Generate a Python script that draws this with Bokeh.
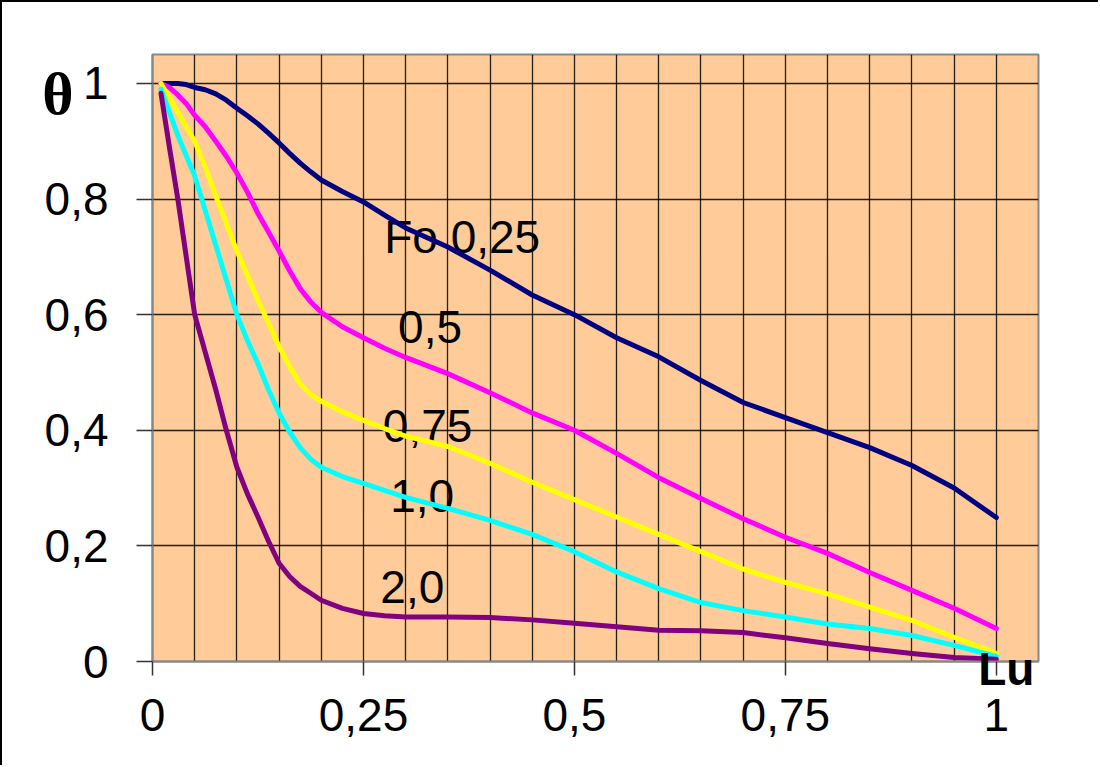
from bokeh.plotting import figure
from bokeh.models import Range1d, FixedTicker, ColumnDataSource
from bokeh.core.properties import value
from bokeh.embed import file_html
from bokeh.resources import INLINE

# Data
lu = [0.01, 0.02, 0.03, 0.04, 0.05, 0.0625, 0.075, 0.0875, 0.1, 0.1125, 0.125, 0.1375,
      0.15, 0.1625, 0.175, 0.1875, 0.2, 0.225, 0.25, 0.275, 0.3, 0.35, 0.4,
      0.45, 0.5, 0.55, 0.6, 0.65, 0.7, 0.75, 0.8, 0.85, 0.9, 0.95, 1.0]
theta_fo_025 = [1.0, 1.0, 1.0, 0.998, 0.993, 0.989, 0.982, 0.971, 0.957, 0.944, 0.93, 0.914,
                0.897, 0.879, 0.862, 0.847, 0.833, 0.813, 0.795, 0.772, 0.75, 0.717, 0.677,
                0.634, 0.6, 0.56, 0.527, 0.486, 0.448, 0.422, 0.396, 0.37, 0.339, 0.3, 0.249]
theta_fo_05 = [1.0, 0.993, 0.98, 0.965, 0.945, 0.925, 0.9, 0.874, 0.845, 0.812, 0.775, 0.743,
               0.71, 0.676, 0.645, 0.622, 0.604, 0.579, 0.56, 0.542, 0.526, 0.498, 0.465,
               0.43, 0.4, 0.36, 0.318, 0.282, 0.247, 0.215, 0.187, 0.154, 0.123, 0.092, 0.057]
theta_fo_075 = [1.0, 0.975, 0.95, 0.925, 0.9, 0.855, 0.805, 0.758, 0.71, 0.668, 0.625, 0.585,
                0.545, 0.51, 0.48, 0.462, 0.45, 0.432, 0.417, 0.403, 0.39, 0.372, 0.343,
                0.31, 0.28, 0.25, 0.22, 0.19, 0.16, 0.137, 0.117, 0.094, 0.071, 0.042, 0.014]
theta_fo_10 = [0.99, 0.95, 0.91, 0.875, 0.84, 0.78, 0.72, 0.66, 0.6, 0.555, 0.515, 0.47,
               0.43, 0.397, 0.37, 0.35, 0.336, 0.32, 0.308, 0.296, 0.284, 0.265, 0.244,
               0.22, 0.19, 0.155, 0.126, 0.102, 0.088, 0.077, 0.065, 0.057, 0.045, 0.028, 0.009]
theta_fo_20 = [0.983, 0.89, 0.8, 0.7, 0.6, 0.535, 0.47, 0.4, 0.336, 0.29, 0.25, 0.208,
               0.17, 0.147, 0.13, 0.118, 0.106, 0.092, 0.083, 0.079, 0.077, 0.077, 0.076,
               0.072, 0.066, 0.06, 0.054, 0.053, 0.05, 0.041, 0.031, 0.022, 0.014, 0.007, 0.004]

series = [theta_fo_025, theta_fo_05, theta_fo_075, theta_fo_10, theta_fo_20]
colors = ["#000080", "#FF00FF", "#FFFF00", "#00FFFF", "#800080"]

curve_labels = ["Fo 0,25", "0,5", "0,75", "1,0", "2,0"]
curve_label_x = [0.2746, 0.291, 0.273, 0.2817, 0.27]
curve_label_y = [0.735, 0.579, 0.408, 0.287, 0.129]

x_ticks = [0, 0.25, 0.5, 0.75, 1]
x_tick_labels = ["0", "0,25", "0,5", "0,75", "1"]
y_ticks = [0, 0.2, 0.4, 0.6, 0.8, 1]
y_tick_labels = ["0", "0,2", "0,4", "0,6", "0,8", "1"]

W, H = 1098, 765
p = figure(width=W, height=H, output_backend="svg", toolbar_location=None,
           x_range=Range1d(0, 1.05), y_range=Range1d(0, 1.05),
           min_border_left=150, min_border_top=52, min_border_right=W - 1036,
           min_border_bottom=H - 659)
p.styles = {"border-left": "2px solid black", "border-top": "2px solid black"}

p.background_fill_color = "#FFCC99"
p.border_fill_color = "white"
p.outline_line_color = "#888888"
p.outline_line_width = 2

# grid
p.xgrid.ticker = FixedTicker(ticks=[round(0.05 * i, 2) for i in range(1, 21)])
p.ygrid.ticker = FixedTicker(ticks=y_ticks[1:])
for g in (p.xgrid, p.ygrid):
    g.grid_line_color = "black"
    g.grid_line_alpha = 0.85
    g.grid_line_width = 1.3

# axes
p.xaxis.ticker = FixedTicker(ticks=x_ticks)
p.yaxis.ticker = FixedTicker(ticks=y_ticks)
p.xaxis.major_label_overrides = {t: l for t, l in zip(x_ticks, x_tick_labels)}
p.yaxis.major_label_overrides = {t: l for t, l in zip(y_ticks, y_tick_labels)}
for ax in (p.xaxis, p.yaxis):
    ax.axis_line_color = "#888888"
    ax.axis_line_width = 2
    ax.major_tick_line_color = "#333333"
    ax.major_tick_line_width = 1.5
    ax.major_tick_in = 0
    ax.minor_tick_line_color = None
    ax.major_label_text_font = "Liberation Sans"
    ax.major_label_text_font_size = "46px"
    ax.major_label_text_color = "black"
    ax.axis_label_text_color = "black"
    ax.axis_label_text_font_style = "bold"
    ax.axis_label_align = "end"
p.xaxis.major_tick_out = 14
p.yaxis.major_tick_out = 16
p.xaxis.major_label_standoff = 23
p.yaxis.major_label_standoff = 28

# axis names
p.yaxis.axis_label = "\nθ"
p.yaxis.axis_label_orientation = "horizontal"
p.yaxis.axis_label_text_font = "Liberation Serif"
p.yaxis.axis_label_text_font_size = "60px"
p.yaxis.axis_label_text_line_height = 1.2
p.yaxis.axis_label_standoff = -32
p.xaxis.axis_label = "Lu\u2002\u2009\u2002\u2009"
p.xaxis.axis_label_text_font = "Liberation Sans"
p.xaxis.axis_label_text_font_size = "46px"
p.xaxis.axis_label_standoff = -91

# curve labels (under the lines)
src = ColumnDataSource(dict(x=curve_label_x, y=curve_label_y, t=curve_labels))
p.text(x="x", y="y", text="t", source=src, text_font=value("Liberation Sans"),
       text_font_size="46px", text_color="black", text_baseline="alphabetic", text_align="left")

for ys, c in zip(series, colors):
    p.line(lu, ys, line_color=c, line_width=5, line_join="round", line_cap="round")

open("out.html", "w").write(file_html(p, INLINE))
